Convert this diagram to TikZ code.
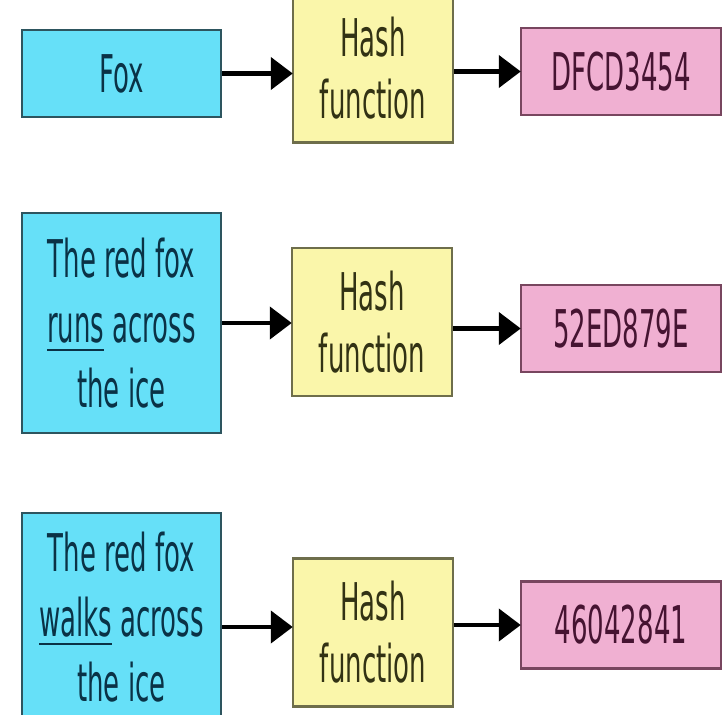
\documentclass[tikz,border=0pt]{standalone}
\usepackage{fontspec}
\setmainfont{DejaVu Sans}[FakeStretch=0.5]
\usetikzlibrary{arrows.meta}
\definecolor{inblue}{RGB}{102,224,248}
\definecolor{inbord}{RGB}{45,85,95}
\definecolor{intext}{RGB}{10,50,70}
\definecolor{hyel}{RGB}{250,246,170}
\definecolor{hbord}{RGB}{110,110,75}
\definecolor{htext}{RGB}{50,50,20}
\definecolor{opink}{RGB}{240,176,210}
\definecolor{obord}{RGB}{120,70,95}
\definecolor{otext}{RGB}{70,20,50}
\tikzset{
  box/.style={draw, line width=2.5pt, inner sep=0pt, align=center,
    font=\fontsize{52}{62}\selectfont},
  inbox/.style={box, fill=inblue, draw=inbord, text=intext, minimum width=199pt,
    font=\fontsize{52}{65}\selectfont},
  hashbox/.style={box, fill=hyel, draw=hbord, text=htext, minimum width=160pt, minimum height=148pt},
  outbox/.style={box, fill=opink, draw=obord, text=otext, minimum width=200pt, minimum height=87pt},
  conn/.style={line width=4.5pt, -{Triangle[length=22pt,width=32pt]}, shorten >=-1pt}
}
\newcommand{\ul}[1]{\setbox0\hbox{#1}\rlap{\rule[-9pt]{\wd0}{2.5pt}}\box0\relax}
\begin{document}
\begin{tikzpicture}[x=1pt,y=-1pt]
\useasboundingbox (0,0) rectangle (724,715);
\clip (0,0) rectangle (724,715);
\fill[white] (0,0) rectangle (724,715);
% row 1
\node[inbox, minimum height=87pt] (i1) at (121.5,73.5) {Fox};
\node[hashbox] (h1) at (373,68.5) {Hash\\function};
\node[outbox] (o1) at (621,71.5) {DFCD3454};
% row 2
\node[inbox, minimum height=220pt] (i2) at (121.5,323) {The red fox\\\ul{runs} across\\the ice};
\node[hashbox] (h2) at (372,322) {Hash\\function};
\node[outbox] (o2) at (621,328.5) {52ED879E};
% row 3
\node[inbox, minimum height=208pt] (i3) at (121.5,617) {The red fox\\\ul{walks} across\\the ice};
\node[hashbox] (h3) at (373,632.5) {Hash\\function};
\node[outbox] (o3) at (621,625) {46042841};
% connectors
\draw[conn] (i1.east) -- (i1.east -| h1.west);
\draw[conn] (o1.west -| h1.east) -- (o1.west);
\draw[conn] (i2.east) -- (i2.east -| h2.west);
\draw[conn] (o2.west -| h2.east) -- (o2.west);
\draw[conn] ([yshift=-10pt]i3.east) -- ([yshift=-10pt]i3.east -| h3.west);
\draw[conn] (o3.west -| h3.east) -- (o3.west);
\end{tikzpicture}
\end{document}
